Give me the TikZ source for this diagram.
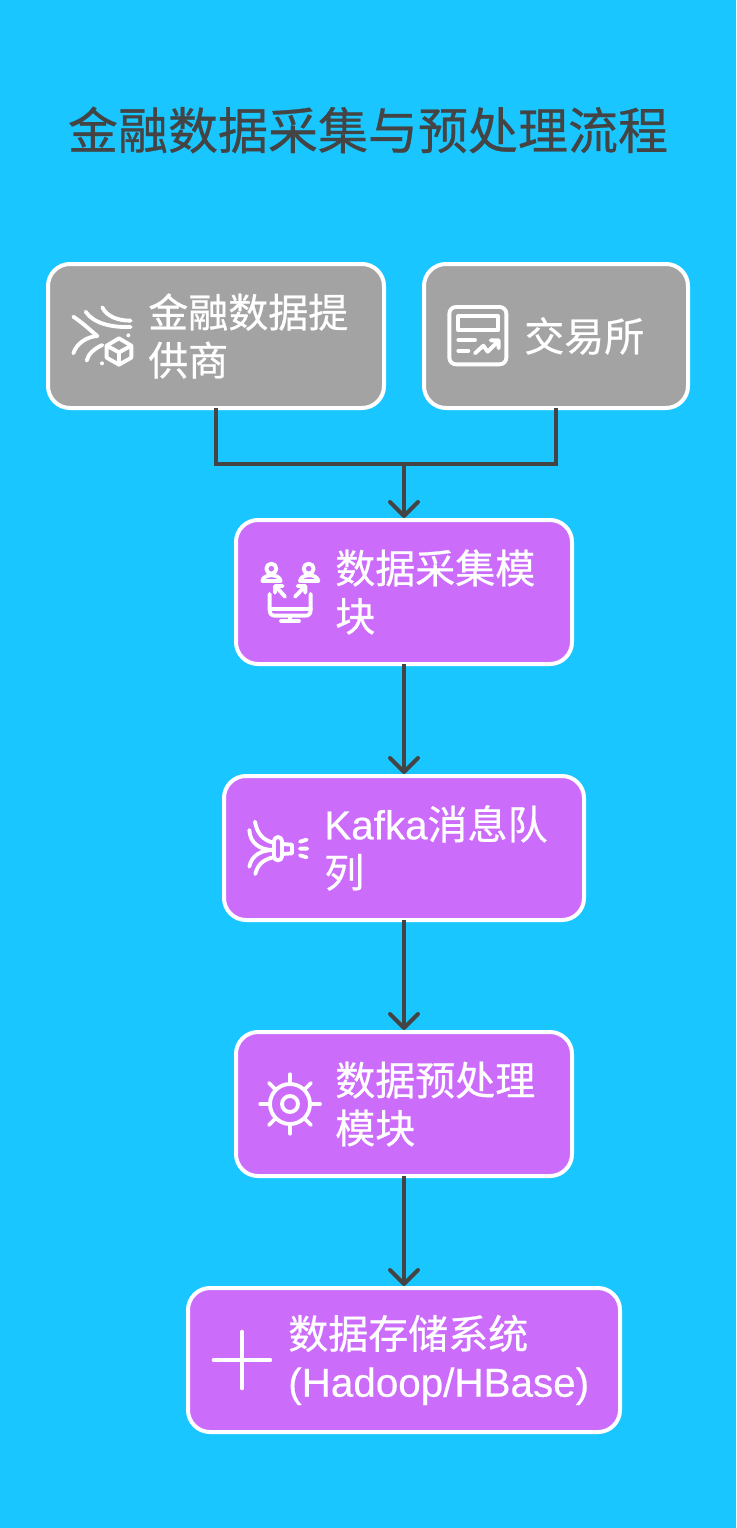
\documentclass[tikz,border=0pt]{standalone}
\usepackage{fontspec}
\usetikzlibrary{arrows.meta}
\setmainfont{Noto Sans CJK SC}[RawFeature={embolden=0.6}]
\newfontfamily\lat{Liberation Sans}[RawFeature={embolden=0.4},Scale=1.01]
\definecolor{bgc}{HTML}{1AC6FF}
\definecolor{grayc}{HTML}{A3A3A3}
\definecolor{purc}{HTML}{CC6CFB}
\definecolor{inkc}{HTML}{444444}
\tikzset{
 x=0.75pt,y=-0.75pt,
 box/.style={draw=white,line width=3pt,rounded corners=16.5pt,inner sep=0pt,outer sep=0pt,anchor=north west},
 graybox/.style={box,fill=grayc},
 purbox/.style={box,fill=purc},
 lbl/.style={text=white,font=\fontsize{30pt}{36pt}\selectfont,align=left,anchor=west,inner sep=0pt},
 conn/.style={draw=inkc,line width=3pt},
 arr/.style={conn,shorten >=1.5pt,-{Straight Barb[round,length=10.5pt,width=21pt,line width=3pt]}},
 ico/.style={draw=white,line width=2.9pt,line cap=round,line join=round},
}
\begin{document}
\begin{tikzpicture}
\useasboundingbox (0,0) rectangle (736,1528);
\fill[bgc] (0,0) rectangle (736,1528);
\node[text=inkc,font=\fontsize{37.5pt}{40pt}\selectfont,inner sep=0pt,anchor=center] (title) at (368,130) {金融数据采集与预处理流程};

\node[graybox,minimum width=252pt,minimum height=108pt] (b1) at (48,264) {};
\node[graybox,minimum width=198pt,minimum height=108pt] (b2) at (424,264) {};
\node[purbox,minimum width=252pt,minimum height=108pt] (b3) at (236,520) {};
\node[purbox,minimum width=270pt,minimum height=108pt] (b4) at (224,776) {};
\node[purbox,minimum width=252pt,minimum height=108pt] (b5) at (236,1032) {};
\node[purbox,minimum width=324pt,minimum height=108pt] (b6) at (188,1288) {};

\node[lbl] (t1) at (148,336) {金融数据提\\供商};
\node[lbl] (t2) at (524,336) {交易所};
\node[lbl] (t3) at (335,592) {数据采集模\\块};
\node[lbl] (t4) at (324,848) {{\lat Kafka}消息队\\列};
\node[lbl] (t5) at (335,1104) {数据预处理\\模块};
\node[lbl] (t6) at (288,1360) {数据存储系统\\{\lat (Hadoop/HBase)}};

\coordinate (j) at (404,464);
\draw[conn] (b1.south) |- (j);
\draw[conn] (b2.south) |- (j);
\draw[arr] (j) -- (b3.north);
\draw[arr] (b3.south) -- (b4.north);
\draw[arr] (b4.south) -- (b5.north);
\draw[arr] (b5.south) -- (b6.north);

% icon 1
\begin{scope}[shift={(40,255)},scale=1/3]
\draw[ico] (187,157) .. controls (200,185) and (235,197) .. (272,197);
\draw[ico] (137,170) .. controls (160,205) and (215,218) .. (272,216);
\draw[ico] (100,185) .. controls (130,205) and (150,225) .. (172,243);
\draw[ico] (100,295) .. controls (110,265) and (140,245) .. (172,243);
\draw[ico] (140,317) .. controls (145,295) and (165,280) .. (187,270);
\fill[white] (265,241) circle (6) (186,325) circle (6);
\draw[ico] (237,250) -- (274,272) -- (274,308) -- (237,329) -- (200,308) -- (200,272) -- cycle;
\draw[ico] (200,272) -- (237,292) -- (274,272) (237,292) -- (237,329);
\end{scope}
% icon 2
\begin{scope}[shift={(420,255)},scale=1/3]
\draw[ico,rounded corners=5pt] (88,156) rectangle (259,328);
\draw[ico] (115,183) rectangle (234,226);
\draw[ico] (115,255) -- (165,255) (115,287) -- (145,287);
\draw[ico] (165,295) -- (190,272) -- (203,290) -- (235,258) (212,256) -- (236,256) -- (236,280);
\end{scope}
% icon 3
\begin{scope}[shift={(230,510)},scale=1/3]
\draw[ico] (124,176) circle (15) (236,176) circle (15);
\draw[ico] (97,213) .. controls (100,190) and (148,190) .. (152,213) -- cycle;
\draw[ico] (210,213) .. controls (213,190) and (262,190) .. (265,213) -- cycle;
\draw[ico] (119,252) -- (119,300) .. controls (119,312) and (125,317) .. (135,317) -- (226,317) .. controls (236,317) and (242,312) .. (242,300) -- (242,252);
\draw[ico] (119,298) -- (242,298) (180,317) -- (180,332) (153,333) -- (207,333);
\draw[ico] (165,260) -- (138,230) (135,248) -- (135,228) -- (158,228);
\draw[ico] (195,260) -- (224,230) (203,228) -- (226,228) -- (226,248);
\end{scope}
% icon 4
\begin{scope}[shift={(220,770)},scale=1/3]
\draw[ico] (105,155) .. controls (110,185) and (125,210) .. (160,218);
\draw[ico] (88,180) .. controls (90,220) and (120,240) .. (160,240);
\draw[ico] (88,290) .. controls (95,255) and (125,240) .. (160,240);
\draw[ico] (106,312) .. controls (112,285) and (130,268) .. (160,262);
\draw[ico,rounded corners=3pt] (162,201) rectangle (186,271);
\draw[ico] (186,222) -- (216,224) -- (216,250) -- (186,252);
\draw[ico] (240,215) -- (260,209) (240,236) -- (262,236) (240,256) -- (260,262);
\end{scope}
% icon 5
\begin{scope}[shift={(230,1025)},scale=1/3]
\draw[ico] (180,237) circle (60) (180,237) circle (24);
\draw[ico] (180,148) -- (180,177) (180,297) -- (180,326) (91,237) -- (120,237) (240,237) -- (270,237);
\draw[ico] (117,174) -- (137,194) (243,174) -- (223,194) (117,300) -- (137,280) (243,300) -- (223,280);
\end{scope}
% icon 6
\begin{scope}[shift={(180,1280)},scale=1/3]
\draw[ico] (186,155) -- (186,325) (101,240) -- (271,240);
\end{scope}
\end{tikzpicture}
\end{document}
